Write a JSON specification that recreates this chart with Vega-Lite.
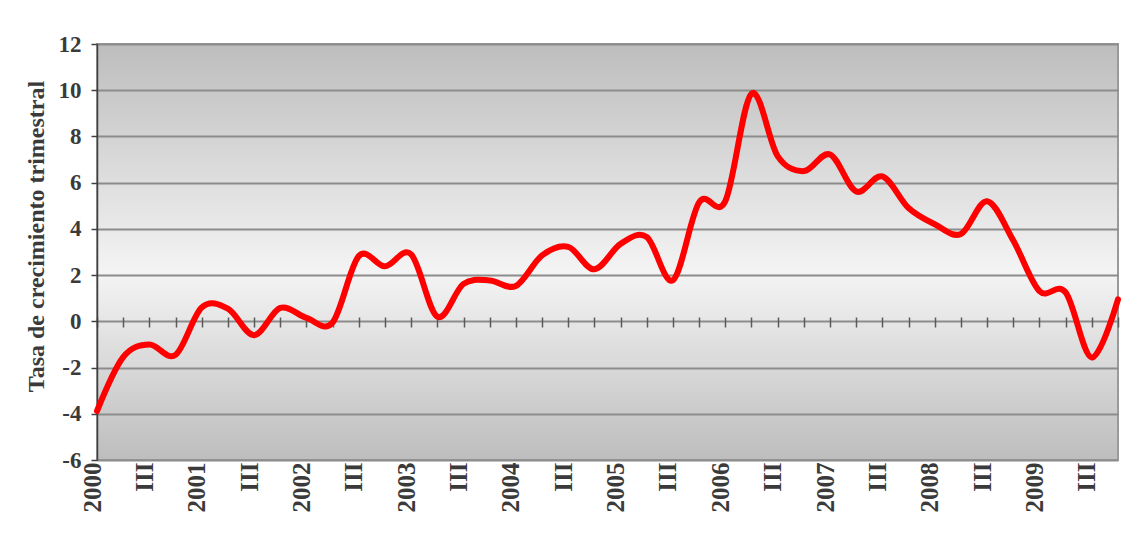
{
  "$schema": "https://vega.github.io/schema/vega-lite/v6.json",
  "autosize": "none",
  "width": 1021,
  "height": 416,
  "padding": {"left": 97, "top": 44, "right": 20, "bottom": 92},
  "background": "white",
  "config": {
    "view": {
      "fill": {"gradient": "linear", "x1": 0, "y1": 0, "x2": 0, "y2": 1,
        "stops": [{"offset": 0, "color": "#bdbdbd"}, {"offset": 0.55, "color": "#f4f4f4"}, {"offset": 1, "color": "#bdbdbd"}]},
      "stroke": "#9a9a9a",
      "strokeWidth": 2
    }
  },
  "data": {"values": [
    {"periodo": "2000-I", "t": 0, "tasa": -3.88},
    {"periodo": "2000-II", "t": 1, "tasa": -1.55},
    {"periodo": "2000-III", "t": 2, "tasa": -1.0},
    {"periodo": "2000-IV", "t": 3, "tasa": -1.45},
    {"periodo": "2001-I", "t": 4, "tasa": 0.6},
    {"periodo": "2001-II", "t": 5, "tasa": 0.55},
    {"periodo": "2001-III", "t": 6, "tasa": -0.6},
    {"periodo": "2001-IV", "t": 7, "tasa": 0.58},
    {"periodo": "2002-I", "t": 8, "tasa": 0.15},
    {"periodo": "2002-II", "t": 9, "tasa": -0.05},
    {"periodo": "2002-III", "t": 10, "tasa": 2.82},
    {"periodo": "2002-IV", "t": 11, "tasa": 2.38},
    {"periodo": "2003-I", "t": 12, "tasa": 2.9},
    {"periodo": "2003-II", "t": 13, "tasa": 0.2},
    {"periodo": "2003-III", "t": 14, "tasa": 1.62},
    {"periodo": "2003-IV", "t": 15, "tasa": 1.77},
    {"periodo": "2004-I", "t": 16, "tasa": 1.53},
    {"periodo": "2004-II", "t": 17, "tasa": 2.85},
    {"periodo": "2004-III", "t": 18, "tasa": 3.22},
    {"periodo": "2004-IV", "t": 19, "tasa": 2.25},
    {"periodo": "2005-I", "t": 20, "tasa": 3.35},
    {"periodo": "2005-II", "t": 21, "tasa": 3.65},
    {"periodo": "2005-III", "t": 22, "tasa": 1.78},
    {"periodo": "2005-IV", "t": 23, "tasa": 5.15},
    {"periodo": "2006-I", "t": 24, "tasa": 5.2},
    {"periodo": "2006-II", "t": 25, "tasa": 9.85},
    {"periodo": "2006-III", "t": 26, "tasa": 7.15},
    {"periodo": "2006-IV", "t": 27, "tasa": 6.5},
    {"periodo": "2007-I", "t": 28, "tasa": 7.22},
    {"periodo": "2007-II", "t": 29, "tasa": 5.62},
    {"periodo": "2007-III", "t": 30, "tasa": 6.27},
    {"periodo": "2007-IV", "t": 31, "tasa": 4.9},
    {"periodo": "2008-I", "t": 32, "tasa": 4.2},
    {"periodo": "2008-II", "t": 33, "tasa": 3.78},
    {"periodo": "2008-III", "t": 34, "tasa": 5.2},
    {"periodo": "2008-IV", "t": 35, "tasa": 3.5},
    {"periodo": "2009-I", "t": 36, "tasa": 1.31},
    {"periodo": "2009-II", "t": 37, "tasa": 1.25},
    {"periodo": "2009-III", "t": 38, "tasa": -1.57},
    {"periodo": "2009-IV", "t": 39, "tasa": 0.95}
  ]},
  "resolve": {"axis": {"x": "independent"}},
  "layer": [
    {
      "mark": {"type": "point", "opacity": 0},
      "encoding": {
        "x": {"field": "t", "type": "quantitative", "scale": {"domain": [0, 39], "nice": false, "zero": false},
          "axis": {"orient": "bottom", "offset": -143, "domain": false, "labels": false, "grid": false, "title": null,
            "ticks": true, "tickSize": 10, "tickColor": "#5a5a5a", "tickWidth": 1.5,
            "values": [0,1,2,3,4,5,6,7,8,9,10,11,12,13,14,15,16,17,18,19,20,21,22,23,24,25,26,27,28,29,30,31,32,33,34,35,36,37,38,39]}},
        "y": {"field": "tasa", "type": "quantitative", "scale": {"domain": [-6, 12], "nice": false},
          "axis": {"title": "Tasa de crecimiento trimestral", "values": [-6,-4,-2,0,2,4,6,8,10,12],
            "labelExpr": "toString(datum.value)",
            "grid": true, "gridColor": "#8c8c8c", "gridWidth": 2,
            "domain": true, "domainColor": "#404040", "domainWidth": 1.5,
            "ticks": true, "tickSize": 6, "tickColor": "#404040", "tickWidth": 1.5,
            "labelPadding": 10, "labelFont": "Liberation Serif", "labelFontWeight": "bold", "labelFontSize": 23, "labelColor": "#3a3a3a",
            "titleFont": "Liberation Serif", "titleFontWeight": "bold", "titleFontSize": 24, "titleColor": "#3a3a3a",
            "titleAngle": 270, "titleBaseline": "middle", "titleX": -61, "titleY": 192}}
      }
    },
    {
      "mark": {"type": "line", "color": "#ff0000", "strokeWidth": 6, "interpolate": "cardinal", "tension": 0, "strokeCap": "round", "strokeJoin": "round"},
      "encoding": {
        "x": {"field": "t", "type": "quantitative", "scale": {"domain": [0, 39], "nice": false, "zero": false},
          "axis": {"orient": "bottom", "title": null, "grid": false, "domain": false, "ticks": false,
            "values": [0,2,4,6,8,10,12,14,16,18,20,22,24,26,28,30,32,34,36,38],
            "labelExpr": "datum.value % 4 == 0 ? toString(2000 + datum.value / 4) : 'III'",
            "labelAngle": 270, "labelAlign": "right", "labelBaseline": "middle", "labelPadding": 2, "labelOffset": -5,
            "labelFont": "Liberation Serif", "labelFontWeight": "bold", "labelFontSize": 25, "labelColor": "#3a3a3a"}},
        "y": {"field": "tasa", "type": "quantitative", "scale": {"domain": [-6, 12], "nice": false},
          "axis": {"title": "Tasa de crecimiento trimestral", "values": [-6,-4,-2,0,2,4,6,8,10,12],
            "labelExpr": "toString(datum.value)",
            "grid": true, "gridColor": "#8c8c8c", "gridWidth": 2,
            "domain": true, "domainColor": "#404040", "domainWidth": 1.5,
            "ticks": true, "tickSize": 6, "tickColor": "#404040", "tickWidth": 1.5,
            "labelPadding": 10, "labelFont": "Liberation Serif", "labelFontWeight": "bold", "labelFontSize": 23, "labelColor": "#3a3a3a",
            "titleFont": "Liberation Serif", "titleFontWeight": "bold", "titleFontSize": 24, "titleColor": "#3a3a3a",
            "titleAngle": 270, "titleBaseline": "middle", "titleX": -61, "titleY": 192}}
      }
    }
  ]
}
